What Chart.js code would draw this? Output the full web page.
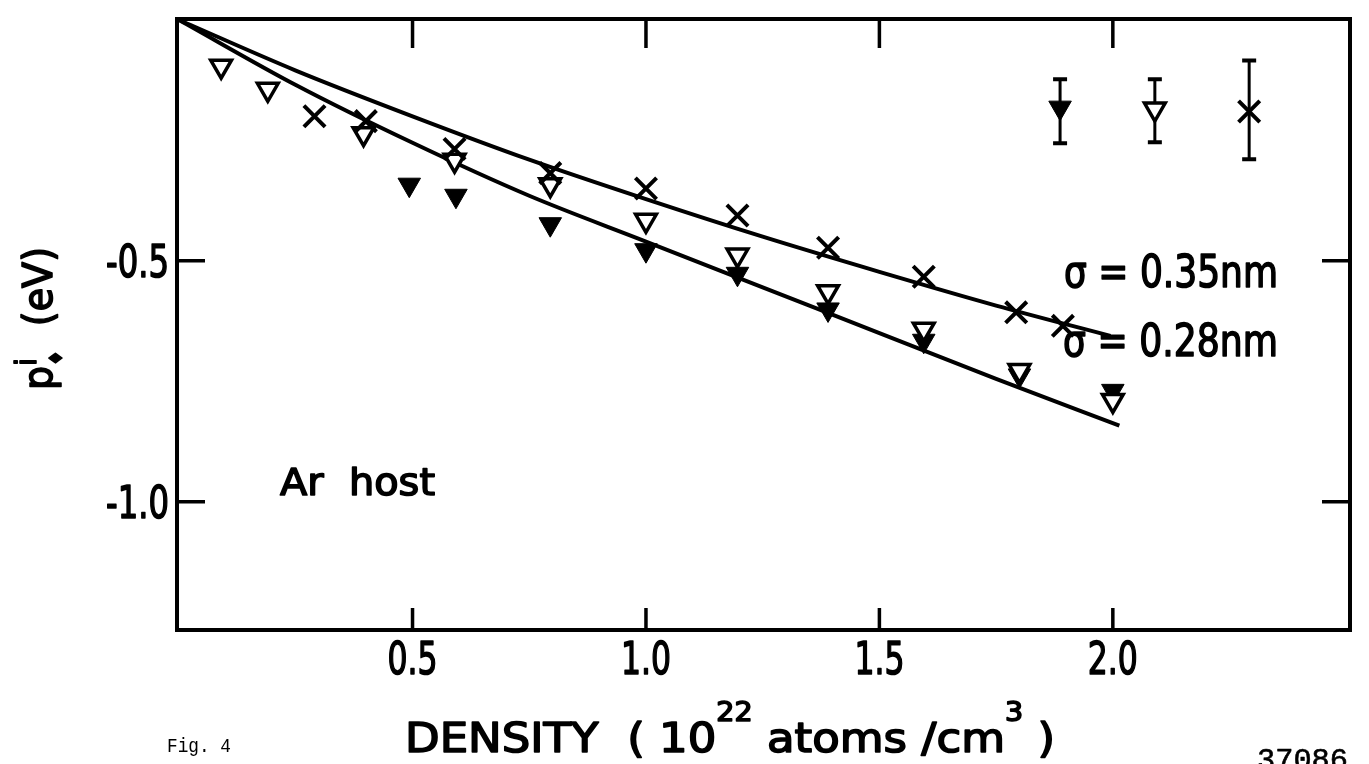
<!DOCTYPE html>
<html>
<head>
<meta charset="utf-8">
<script src="https://cdn.jsdelivr.net/npm/chart.js"></script>
<style>
  html, body { margin: 0; padding: 0; background: #fff; }
</style>
</head>
<body>
<canvas id="chart" width="1369" height="764"></canvas>
<script>
    // values (density in 10^22 atoms/cm^3, energy in eV)
    const crossX = [0.29, 0.40, 0.59, 0.795, 1.0, 1.196, 1.39, 1.595, 1.793, 1.893];
    const crossY = [-0.20, -0.21, -0.268, -0.318, -0.35, -0.406, -0.473, -0.533, -0.607, -0.635];

    const openX = [0.09, 0.19, 0.395, 0.59, 0.795, 1.0, 1.196, 1.39, 1.595, 1.80, 2.0];
    const openY = [-0.096, -0.144, -0.236, -0.291, -0.342, -0.416, -0.488, -0.564, -0.642, -0.728, -0.79];

    const filledX = [0.493, 0.593, 0.795, 1.0, 1.196, 1.39, 1.595, 1.80, 2.0];
    const filledY = [-0.342, -0.365, -0.424, -0.478, -0.527, -0.601, -0.666, -0.738, -0.77];

    // fitted curves
    const curve035X = [0, 0.25, 0.5, 0.75, 1.0, 1.25, 1.5, 1.75, 1.995];
    const curve035Y = [0, -0.105, -0.2, -0.29, -0.372, -0.45, -0.523, -0.593, -0.656];
    const curve028X = [0, 0.25, 0.5, 0.75, 1.0, 1.25, 1.5, 1.75, 2.014];
    const curve028Y = [0, -0.135, -0.255, -0.365, -0.46, -0.555, -0.65, -0.745, -0.842];

    // typical error bars (filled, open, cross)
    const errX = [1.887, 2.09, 2.292];
    const errY = [-0.182, -0.185, -0.19];
    const errLow = [-0.256, -0.254, -0.289];
    const errHigh = [-0.123, -0.123, -0.084];

    const xTicks = [0.5, 1.0, 1.5, 2.0];
    const xTickLabels = ['0.5', '1.0', '1.5', '2.0'];
    const yTicks = [-0.5, -1.0];
    const yTickLabels = ['-0.5', '-1.0'];

    const FONT = '"DejaVu Sans", sans-serif';
    const MONO = '"Liberation Mono", monospace';

    const pts = (xs, ys) => xs.map((x, i) => ({ x, y: ys[i] }));

    // draws a run of text pieces squeezed to a given width (the lettering is condensed)
    function fitText(ctx, parts, x, baseline, width, align, thick) {
        const stroke = thick === undefined ? 1.6 : thick;
        let natural = 0;
        parts.forEach(p => {
            ctx.font = `${p.size}px ${p.font || FONT}`;
            p.w = ctx.measureText(p.t).width;
            if (p.adv !== false) natural += p.w;
        });
        const k = width / natural;
        const x0 = align === 'center' ? x - width / 2 : align === 'right' ? x - width : x;
        ctx.save();
        ctx.translate(x0, baseline);
        ctx.scale(k, 1);
        ctx.textBaseline = 'alphabetic';
        ctx.textAlign = 'left';
        ctx.lineJoin = 'round';
        if (stroke > 0) ctx.lineWidth = stroke;
        let cx = 0;
        parts.forEach(p => {
            ctx.font = `${p.size}px ${p.font || FONT}`;
            ctx.fillText(p.t, cx, p.dy || 0);
            if (stroke > 0) ctx.strokeText(p.t, cx, p.dy || 0);
            if (p.adv !== false) cx += p.w;
        });
        ctx.restore();
    }

    const figurePlugin = {
        id: 'figure',
        beforeDatasetsDraw(chart) {
            const { ctx, scales: { x, y } } = chart;
            ctx.save();
            ctx.strokeStyle = '#000';
            ctx.lineCap = 'butt';
            errX.forEach((v, i) => {
                const px = x.getPixelForValue(v);
                const top = y.getPixelForValue(errHigh[i]);
                const bot = y.getPixelForValue(errLow[i]);
                ctx.lineWidth = 3;
                ctx.beginPath();
                ctx.moveTo(px, top);
                ctx.lineTo(px, bot);
                ctx.stroke();
                ctx.lineWidth = 4;
                ctx.beginPath();
                ctx.moveTo(px - 7, top);
                ctx.lineTo(px + 7, top);
                ctx.moveTo(px - 7, bot);
                ctx.lineTo(px + 7, bot);
                ctx.stroke();
            });
            ctx.restore();
        },
        afterDraw(chart) {
            const { ctx, chartArea: a, scales: { x, y } } = chart;
            ctx.save();
            ctx.strokeStyle = '#000';
            ctx.fillStyle = '#000';

            // frame
            ctx.lineWidth = 4;
            ctx.strokeRect(a.left, a.top, a.right - a.left, a.bottom - a.top);

            // inward ticks
            ctx.lineWidth = 3.5;
            ctx.beginPath();
            xTicks.forEach(v => {
                const px = x.getPixelForValue(v);
                ctx.moveTo(px, a.bottom);
                ctx.lineTo(px, a.bottom - 22);
                ctx.moveTo(px, a.top);
                ctx.lineTo(px, a.top + 29);
            });
            yTicks.forEach(v => {
                const py = y.getPixelForValue(v);
                ctx.moveTo(a.left, py);
                ctx.lineTo(a.left + 28, py);
                ctx.moveTo(a.right, py);
                ctx.lineTo(a.right - 28, py);
            });
            ctx.stroke();

            // tick labels
            xTicks.forEach((v, i) => {
                fitText(ctx, [{ t: xTickLabels[i], size: 44 }], x.getPixelForValue(v), 674, 50, 'center');
            });
            yTicks.forEach((v, i) => {
                fitText(ctx, [{ t: yTickLabels[i], size: 44 }], 169, y.getPixelForValue(v) + 16, 63, 'right');
            });

            // x axis title with superscripts
            fitText(ctx, [
                { t: 'DENSITY  ( 10', size: 41 },
                { t: '22', size: 26, dy: -31 },
                { t: ' atoms /cm', size: 41 },
                { t: '3', size: 26, dy: -31 },
                { t: ' )', size: 41 }
            ], 405, 752, 650, 'left');

            // y axis title, rotated
            ctx.save();
            ctx.translate(52, 390);
            ctx.rotate(-Math.PI / 2);
            fitText(ctx, [
                { t: 'p', size: 40 },
                { t: 'i', size: 28, dy: -16, adv: false },
                { t: '\u2666', size: 18, dy: 10 },
                { t: '  (eV)', size: 40 }
            ], 0, 0, 143, 'left');
            ctx.restore();

            // annotations
            fitText(ctx, [{ t: '\u03C3 = 0.35nm', size: 44 }], 1064, 287, 214, 'left');
            fitText(ctx, [{ t: '\u03C3 = 0.28nm', size: 44 }], 1063, 356, 215, 'left');
            fitText(ctx, [{ t: 'Ar  host', size: 38 }], 280, 495, 155, 'left');

            fitText(ctx, [{ t: 'Fig. 4', size: 20, font: MONO }], 167, 752, 64, 'left', 0);
            fitText(ctx, [{ t: '37086', size: 30, font: MONO }], 1257, 769, 91, 'left', 0.6);
            ctx.restore();
        }
    };

    const markerCross = { pointStyle: 'crossRot', pointRadius: 15, borderColor: '#000', borderWidth: 4 };
    const markerOpen = { pointStyle: 'triangle', rotation: 180, pointRadius: 12, borderColor: '#000', backgroundColor: '#fff', borderWidth: 3.5 };
    const markerFilled = { pointStyle: 'triangle', rotation: 180, pointRadius: 13, borderColor: '#000', backgroundColor: '#000', borderWidth: 1 };
    const curveStyle = {
        showLine: true, pointRadius: 0, borderColor: '#000', borderWidth: 4,
        tension: 0.4, cubicInterpolationMode: 'monotone', clip: false
    };

    new Chart(document.getElementById('chart'), {
        type: 'scatter',
        data: {
            datasets: [
                { label: 'cross', data: pts(crossX, crossY), ...markerCross },
                { label: 'open', data: pts(openX, openY), ...markerOpen },
                { label: 'filled', data: pts(filledX, filledY), ...markerFilled },
                { label: 'err filled', data: [{ x: errX[0], y: errY[0] }], ...markerFilled },
                { label: 'err open', data: [{ x: errX[1], y: errY[1] }], ...markerOpen },
                { label: 'err cross', data: [{ x: errX[2], y: errY[2] }], ...markerCross },
                { label: 'sigma 0.35 nm', data: pts(curve035X, curve035Y), ...curveStyle },
                { label: 'sigma 0.28 nm', data: pts(curve028X, curve028Y), ...curveStyle }
            ]
        },
        options: {
            responsive: false,
            animation: false,
            layout: { padding: { left: 177, right: 10, top: 13, bottom: 134 } },
            plugins: {
                legend: { display: false },
                tooltip: { enabled: false }
            },
            scales: {
                x: { type: 'linear', min: -0.0045, max: 2.508, display: false },
                y: { type: 'linear', min: -1.2665, max: 0.002, display: false }
            }
        },
        plugins: [figurePlugin]
    });
</script>
</body>
</html>
